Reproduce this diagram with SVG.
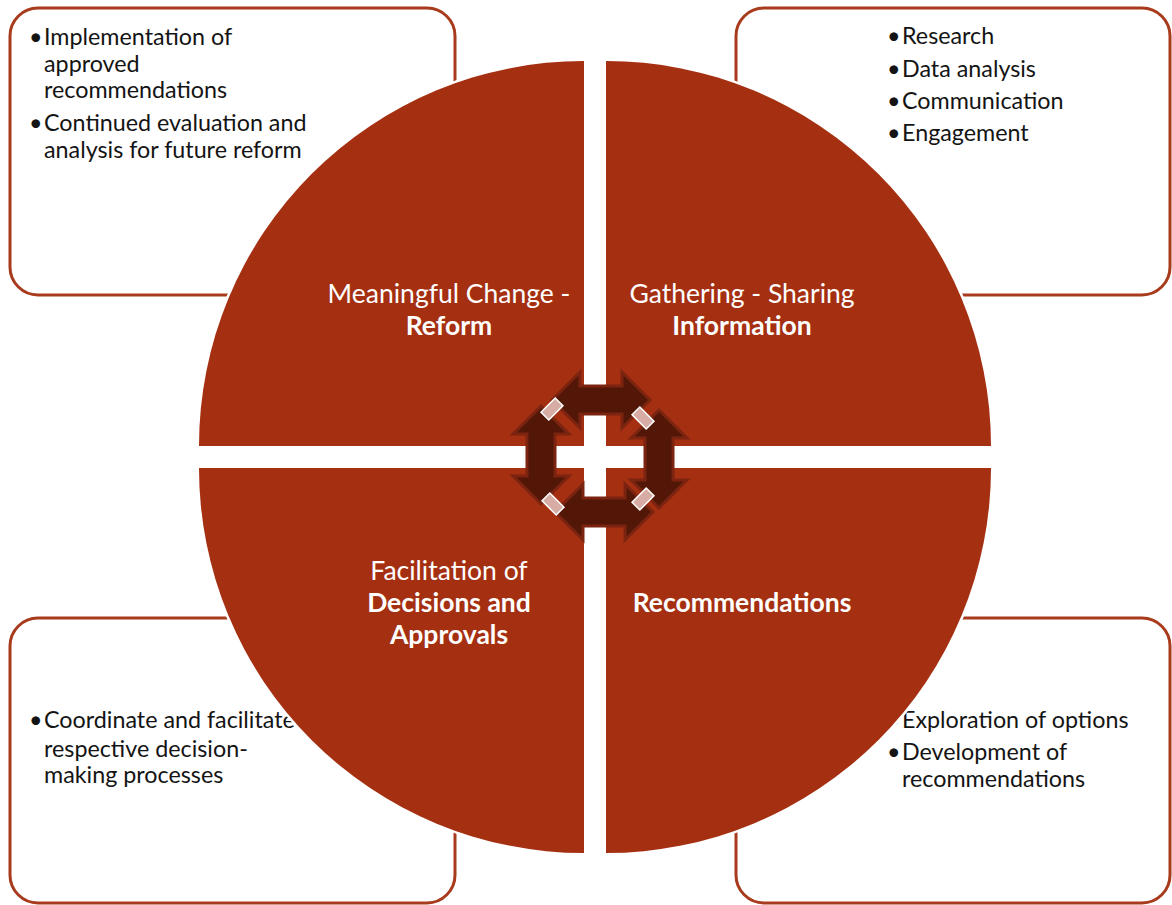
<svg xmlns="http://www.w3.org/2000/svg" width="1172" height="905" viewBox="0 0 1172 905">
<style>
.box{fill:#ffffff;stroke:#a83b1c;stroke-width:3}
.quad{fill:#a52f11;stroke:#ffffff;stroke-width:5;paint-order:stroke}
.bt{font-family:Lato,"Open Sans","Liberation Sans",sans-serif;font-size:23.3px;fill:#141414}
.lbl{font-family:Lato,"Open Sans","Liberation Sans",sans-serif;font-size:26.5px;fill:#ffffff;text-anchor:middle}
.bold{font-weight:bold}
.arr{fill:#521707;stroke:#7d2410;stroke-width:3;stroke-linejoin:miter}
.bev{fill:#d6aca4;stroke:#ffffff;stroke-width:1.5}
</style>
<defs>
<path id="dbl" d="M-49,0 L-21,-28 L-21,-14 L21,-14 L21,-28 L49,0 L21,28 L21,14 L-21,14 L-21,28 Z"/>
</defs>
<rect width="1172" height="905" fill="#ffffff"/>

<g id="box-tl">
<rect class="box" x="10" y="8" width="445" height="287" rx="28"/>
<text class="bt"><tspan x="29" y="45">•</tspan><tspan x="44" y="45">Implementation of</tspan></text>
<text class="bt" x="44" y="72">approved</text>
<text class="bt" x="44" y="98">recommendations</text>
<text class="bt"><tspan x="29" y="131">•</tspan><tspan x="44" y="131">Continued evaluation and</tspan></text>
<text class="bt" x="44" y="158">analysis for future reform</text>
</g>

<g id="box-tr">
<rect class="box" x="736" y="8" width="434" height="287" rx="28"/>
<text class="bt"><tspan x="887" y="44">•</tspan><tspan x="902" y="44">Research</tspan></text>
<text class="bt"><tspan x="887" y="77">•</tspan><tspan x="902" y="77">Data analysis</tspan></text>
<text class="bt"><tspan x="887" y="109">•</tspan><tspan x="902" y="109">Communication</tspan></text>
<text class="bt"><tspan x="887" y="141">•</tspan><tspan x="902" y="141">Engagement</tspan></text>
</g>

<g id="box-bl">
<rect class="box" x="10" y="618" width="445" height="285" rx="28"/>
<text class="bt"><tspan x="29" y="728">•</tspan><tspan x="44" y="728">Coordinate and facilitate</tspan></text>
<text class="bt" x="44" y="757">respective decision-</text>
<text class="bt" x="44" y="783">making processes</text>
</g>

<g id="box-br">
<rect class="box" x="736" y="618" width="434" height="285" rx="28"/>
<text class="bt"><tspan x="887" y="728">•</tspan><tspan x="902" y="728">Exploration of options</tspan></text>
<text class="bt"><tspan x="887" y="760">•</tspan><tspan x="902" y="760">Development of</tspan></text>
<text class="bt" x="902" y="787">recommendations</text>
</g>

<g id="q-reform">
<path class="quad" d="M584,446 L199,446 A385,385 0 0 1 584,61 Z"/>
<text class="lbl" x="449" y="303">Meaningful Change -</text>
<text class="lbl bold" x="449" y="335">Reform</text>
</g>

<g id="q-information">
<path class="quad" d="M606,446 L606,61 A385,385 0 0 1 991,446 Z"/>
<text class="lbl" x="742" y="303">Gathering - Sharing</text>
<text class="lbl bold" x="742" y="335">Information</text>
</g>

<g id="q-recommendations">
<path class="quad" d="M606,468 L991,468 A385,385 0 0 1 606,853 Z"/>
<text class="lbl bold" x="742" y="612">Recommendations</text>
</g>

<g id="q-decisions">
<path class="quad" d="M584,468 L584,853 A385,385 0 0 1 199,468 Z"/>
<text class="lbl" x="449" y="580">Facilitation of</text>
<text class="lbl bold" x="449" y="612">Decisions and</text>
<text class="lbl bold" x="449" y="644">Approvals</text>
</g>

<g id="connectors">
<use href="#dbl" class="arr" transform="translate(601,400)"/>
<use href="#dbl" class="arr" transform="translate(659,459) rotate(90)"/>
<use href="#dbl" class="arr" transform="translate(604,512)"/>
<use href="#dbl" class="arr" transform="translate(541,455) rotate(90)"/>
<rect class="bev" x="-10" y="-5.5" width="20" height="11" transform="translate(552,409) rotate(-45)"/>
<rect class="bev" x="-10" y="-5.5" width="20" height="11" transform="translate(643,418) rotate(45)"/>
<rect class="bev" x="-10" y="-5.5" width="20" height="11" transform="translate(553,504) rotate(45)"/>
<rect class="bev" x="-10" y="-5.5" width="20" height="11" transform="translate(643,499) rotate(-45)"/>
</g>
</svg>
